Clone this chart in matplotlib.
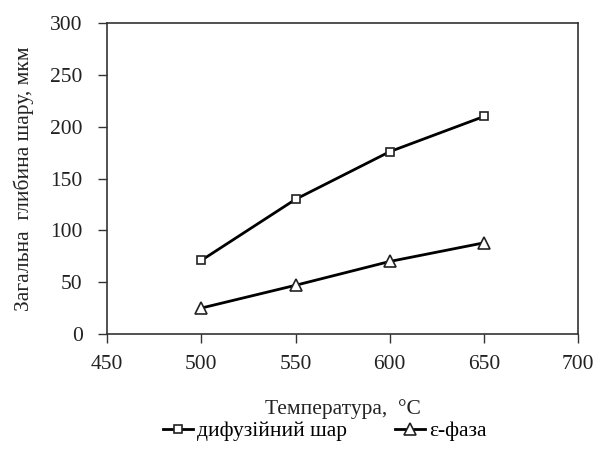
import matplotlib.pyplot as plt

temperatura = [500, 550, 600, 650]
difuz_shar = [71, 130, 176, 210]
eps_faza = [25, 47, 70, 88]

plt.rcParams['font.family'] = ['Liberation Serif', 'DejaVu Serif']

fig = plt.figure(figsize=(5.98, 4.55), dpi=100)
ax = fig.add_axes([0.179, 0.266, 0.788, 0.683])

ax.plot(temperatura, difuz_shar, color='black', linewidth=2, marker='s',
        markersize=6, markerfacecolor='white', markeredgecolor='#222222',
        markeredgewidth=1.2, label='дифузійний шар')
ax.plot(temperatura, eps_faza, color='black', linewidth=2, marker='^',
        markersize=9, markerfacecolor='white', markeredgecolor='#222222',
        markeredgewidth=1.2, label='ε-фаза')

ax.set_xlim(450, 700)
ax.set_ylim(0, 300)
ax.set_xticks(range(450, 701, 50))
ax.set_yticks(range(0, 301, 50))
ax.tick_params(labelsize=15.5, length=6.5, width=1, color='#333333', labelcolor='#222222')
ax.tick_params(axis='y', pad=11)
ax.tick_params(axis='x', pad=9)
for s in ax.spines.values():
    s.set_color('#333333')
    s.set_linewidth(1.2)

ax.set_xlabel('Температура,  °C', fontsize=15.5, color='#222222', labelpad=18)
ax.set_ylabel('Загальна  глибина шару, мкм', fontsize=15.5, color='#222222', labelpad=12)

fig.legend(loc='center', bbox_to_anchor=(0.543, 0.052), ncol=2, frameon=False,
           fontsize=15.5, handlelength=1.4, handletextpad=0.2, columnspacing=2.2)

fig.savefig('out.png', dpi=100)
